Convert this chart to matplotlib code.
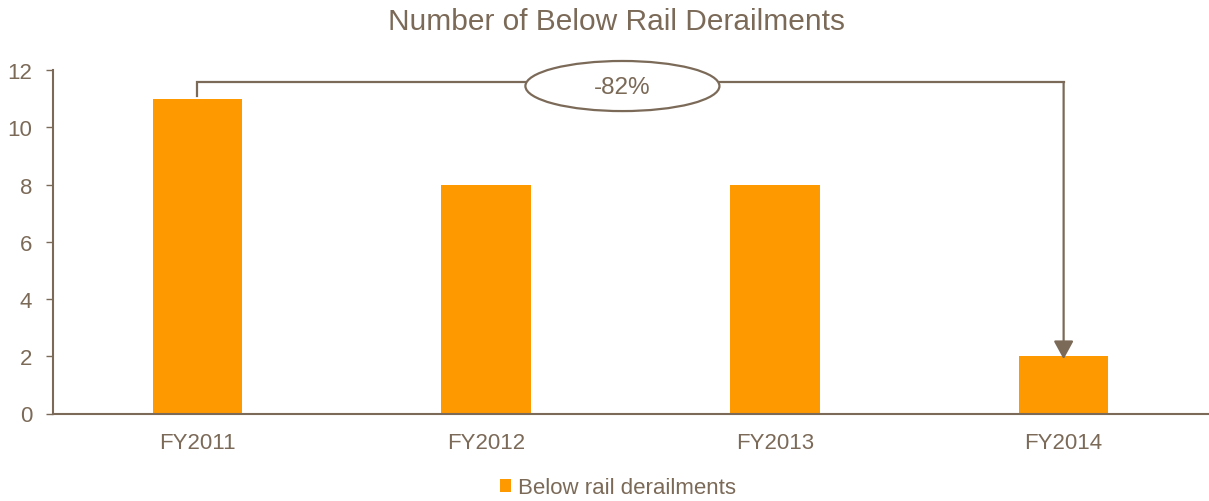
import matplotlib
matplotlib.use("Agg")
import matplotlib.pyplot as plt
from matplotlib.patches import Ellipse, FancyArrowPatch

plt.rcParams['font.family'] = ['Liberation Sans', 'DejaVu Sans']

categories = ["FY2011", "FY2012", "FY2013", "FY2014"]
derailments = [11, 8, 8, 2]
series_name = "Below rail derailments"
title = "Number of Below Rail Derailments"
change_label = "-82%"

bar_color = "#FF9900"
ink = "#7B6A58"

fig = plt.figure(figsize=(12.09, 5.02), dpi=100)
ax = fig.add_axes([53 / 1209, 1 - 414.5 / 502, 1155 / 1209, (414.5 - 71) / 502])

x = list(range(len(categories)))
ax.bar(x, derailments, width=0.31, color=bar_color, label=series_name, zorder=2)

ax.set_xlim(-0.5, len(categories) - 0.5)
ax.set_ylim(0, 12)
ax.set_yticks(range(0, 13, 2))
ax.set_xticks(x)
ax.set_xticklabels(categories)

for side in ("top", "right"):
    ax.spines[side].set_visible(False)
for side in ("left", "bottom"):
    ax.spines[side].set_color(ink)
    ax.spines[side].set_linewidth(1.5)

ax.tick_params(axis="y", colors=ink, labelcolor=ink, labelsize=16,
               length=5, width=1.0, pad=10, direction="out")
ax.tick_params(axis="x", colors=ink, labelcolor=ink, labelsize=16,
               length=0, pad=13)

fig.text(616 / 1209, 0.985, title, color=ink, fontsize=21.5,
         ha="center", va="top")

# Bracket from the first bar to the last bar showing the overall change
first, last = 0, len(derailments) - 1
bracket_y = 11.58
ax.plot([first, first, last], [derailments[first] + 0.1, bracket_y, bracket_y],
        color=ink, lw=1.6, clip_on=False, zorder=3, solid_joinstyle="miter")
arrow = FancyArrowPatch((last, bracket_y), (last, derailments[last] - 0.1),
                        arrowstyle="-|>,head_length=0.55,head_width=0.3",
                        mutation_scale=20, color=ink, lw=1.6,
                        shrinkA=0, shrinkB=0, clip_on=False, zorder=3)
ax.add_patch(arrow)

ell_x = 1.472
ell_y = 11.44
ax.add_patch(Ellipse((ell_x, ell_y), 0.672, 1.75, facecolor="white",
                     edgecolor=ink, lw=1.6, clip_on=False, zorder=4))
ax.text(ell_x, ell_y - 0.02, change_label, ha="center", va="center",
        color=ink, fontsize=17.5, zorder=5)

fig.legend(loc="center", bbox_to_anchor=(618 / 1209, 0.026), frameon=False,
           fontsize=16, labelcolor=ink, handlelength=0.5, handleheight=0.5,
           handletextpad=0.3, borderaxespad=0)

fig.savefig("out.png", dpi=100)
